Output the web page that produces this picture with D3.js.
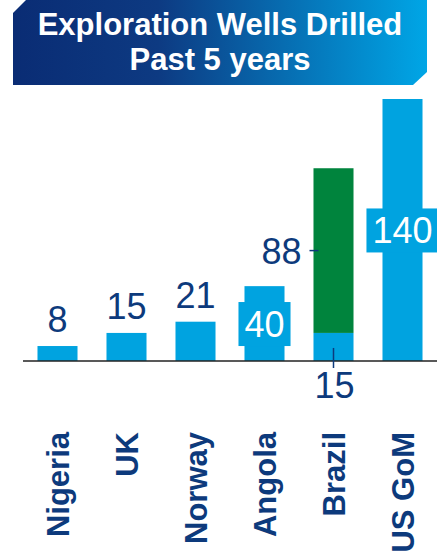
<!DOCTYPE html>
<html>
<head>
<meta charset="utf-8">
<script src="https://cdn.jsdelivr.net/npm/d3@7"></script>
<style>
  body { margin: 0; background: #fff; }
  svg { display: block; font-family: "Liberation Sans", Arial, sans-serif; }
</style>
</head>
<body>
<svg id="chart"></svg>
<script>
const width = 437;
const height = 555;

// data
const countries = ["Nigeria", "UK", "Norway", "Angola", "Brazil", "US GoM"];
const wells = [8, 15, 21, 40, 15, 140];          // blue bars
const brazilExtra = [0, 0, 0, 0, 88, 0];         // green part stacked on Brazil
const titleLines = ["Exploration Wells Drilled", "Past 5 years"];

const blue = "#00a3e0";
const green = "#00843d";
const navy = "#0d3a7c";

const svg = d3.select("#chart").attr("width", width).attr("height", height);

// title banner
const grad = svg.append("defs").append("linearGradient")
  .attr("id", "bannerGrad").attr("x1", "0%").attr("x2", "100%");
grad.append("stop").attr("offset", "0%").attr("stop-color", "#0a2c74");
grad.append("stop").attr("offset", "35%").attr("stop-color", "#0d3a82");
grad.append("stop").attr("offset", "100%").attr("stop-color", "#00a6e6");

svg.append("path")
  .attr("d", "M13,13 L26,0 L427,0 L427,72 L413,85 L13,85 Z")
  .attr("fill", "url(#bannerGrad)");

svg.selectAll(".title")
  .data(titleLines)
  .enter()
  .append("text")
  .attr("class", "title")
  .attr("x", 220)
  .attr("y", (d, i) => 35 + i * 35)
  .attr("text-anchor", "middle")
  .attr("font-size", 31)
  .attr("font-weight", "bold")
  .attr("fill", "#fff")
  .text(d => d);

// scales
const x = d3.scaleBand()
  .domain(countries)
  .range([23, 437])
  .paddingInner(0.42)
  .paddingOuter(0.21);

const y = d3.scaleLinear().domain([0, 140]).range([361, 99]);

const rows = countries.map((c, i) => ({ c, v: wells[i], extra: brazilExtra[i] }));

// blue bars
svg.selectAll(".bar")
  .data(rows)
  .enter()
  .append("rect")
  .attr("class", "bar")
  .attr("x", d => x(d.c))
  .attr("y", d => y(d.v))
  .attr("width", x.bandwidth())
  .attr("height", d => y(0) - y(d.v))
  .attr("fill", blue);

// green stacked part
svg.selectAll(".extra")
  .data(rows.filter(d => d.extra > 0))
  .enter()
  .append("rect")
  .attr("class", "extra")
  .attr("x", d => x(d.c))
  .attr("y", d => y(d.v + d.extra))
  .attr("width", x.bandwidth())
  .attr("height", d => y(d.v) - y(d.v + d.extra))
  .attr("fill", green);

// baseline
svg.append("line")
  .attr("x1", x.range()[0]).attr("x2", x.range()[1])
  .attr("y1", y(0)).attr("y2", y(0))
  .attr("stroke", "#222").attr("stroke-width", 1.5);

// labels above small bars
const above = ["Nigeria", "UK", "Norway"];
svg.selectAll(".lblAbove")
  .data(rows.filter(d => above.includes(d.c)))
  .enter()
  .append("text")
  .attr("x", d => x(d.c) + x.bandwidth() / 2)
  .attr("y", d => y(d.v) - 14)
  .attr("text-anchor", "middle")
  .attr("font-size", 36)
  .attr("fill", navy)
  .text(d => d.v);

// labels inside bars with blue box
const inside = ["Angola", "US GoM"];
const inG = svg.selectAll(".lblIn")
  .data(rows.filter(d => inside.includes(d.c)))
  .enter()
  .append("g");

inG.append("text")
  .attr("x", d => x(d.c) + x.bandwidth() / 2)
  .attr("y", d => (y(d.v) + y(0)) / 2)
  .attr("dy", "0.36em")
  .attr("text-anchor", "middle")
  .attr("font-size", 36)
  .attr("fill", "#fff")
  .text(d => d.v);

inG.each(function() {
  const t = d3.select(this).select("text");
  const b = t.node().getBBox();
  d3.select(this).insert("rect", "text")
    .attr("x", b.x - 6)
    .attr("y", b.y + b.height / 2 - 22)
    .attr("width", b.width + 12)
    .attr("height", 44)
    .attr("fill", blue);
});

// Brazil callouts
const br = rows.find(d => d.c === "Brazil");
const bx = x(br.c);
const greenMid = (y(br.v) + y(br.v + br.extra)) / 2;
svg.append("line")
  .attr("x1", bx - 4).attr("x2", bx + 5)
  .attr("y1", greenMid).attr("y2", greenMid)
  .attr("stroke", navy).attr("stroke-width", 1.5);
svg.append("text")
  .attr("x", bx - 12)
  .attr("y", greenMid)
  .attr("dy", "0.36em")
  .attr("text-anchor", "end")
  .attr("font-size", 36)
  .attr("fill", navy)
  .text(br.extra);

const bcx = bx + x.bandwidth() / 2;
svg.append("line")
  .attr("x1", bcx).attr("x2", bcx)
  .attr("y1", (y(br.v) + y(0)) / 2 + 1).attr("y2", y(0) + 7)
  .attr("stroke", navy).attr("stroke-width", 1.5);
svg.append("text")
  .attr("x", bcx + 1)
  .attr("y", 398)
  .attr("text-anchor", "middle")
  .attr("font-size", 36)
  .attr("fill", navy)
  .text(br.v);

// category labels, rotated
svg.selectAll(".cat")
  .data(countries)
  .enter()
  .append("text")
  .attr("class", "cat")
  .attr("transform", d => `translate(${x(d) + x.bandwidth() / 2},432) rotate(-90)`)
  .attr("dy", "0.36em")
  .attr("text-anchor", "end")
  .attr("font-size", 31)
  .attr("font-weight", "bold")
  .attr("fill", navy)
  .text(d => d);
</script>
</body>
</html>
